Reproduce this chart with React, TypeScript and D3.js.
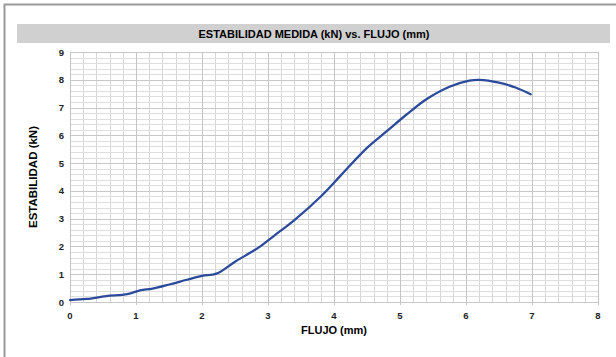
import React, { useEffect, useRef } from 'react'
import * as d3 from 'd3'

const flujo = [0, 0.25, 0.55, 0.87, 1.06, 1.25, 1.52, 1.77, 2.0, 2.22, 2.5, 2.85, 3.1, 3.4, 3.8, 4.1, 4.5, 4.8, 5.1, 5.4, 5.75, 6.05, 6.2, 6.5, 6.75, 6.98]
const estabilidad = [0.07, 0.11, 0.21, 0.28, 0.42, 0.48, 0.64, 0.8, 0.94, 1.02, 1.45, 1.95, 2.4, 2.95, 3.8, 4.55, 5.55, 6.15, 6.75, 7.3, 7.75, 7.97, 8.0, 7.9, 7.72, 7.48]
const xTicks = [0, 1, 2, 3, 4, 5, 6, 7, 8]
const yTicks = [0, 1, 2, 3, 4, 5, 6, 7, 8, 9]

const chartTitle = 'ESTABILIDAD MEDIDA (kN) vs. FLUJO (mm)'
const xTitle = 'FLUJO (mm)'
const yTitle = 'ESTABILIDAD (kN)'

const App: React.FC = () => {
  const ref = useRef<SVGSVGElement | null>(null)

  useEffect(() => {
    if (!ref.current) {
      return
    }
    const svg = d3.select(ref.current)
    svg.selectAll('*').remove()

    const width = 616
    const height = 357
    const margin = { top: 52, right: 18, bottom: 55, left: 70 }
    const plotW = width - margin.left - margin.right
    const plotH = height - margin.top - margin.bottom
    const font = '"Liberation Sans", Arial, sans-serif'

    // frame of the chart area
    svg
      .append('path')
      .attr('d', `M4.5,${height} V4.5 H${width}`)
      .attr('fill', 'none')
      .attr('stroke', '#9a9a9a')
      .attr('stroke-width', 2)

    // title band
    svg
      .append('rect')
      .attr('x', 17)
      .attr('y', 24)
      .attr('width', 593)
      .attr('height', 19)
      .attr('fill', '#d0d0d0')

    svg
      .append('text')
      .attr('x', 314)
      .attr('y', 37.5)
      .attr('text-anchor', 'middle')
      .attr('font-family', font)
      .attr('font-weight', 'bold')
      .attr('font-size', 11)
      .attr('fill', '#000')
      .text(chartTitle)

    const x = d3.scaleLinear().domain([0, 8]).range([0, plotW])
    const y = d3.scaleLinear().domain([0, 9]).range([plotH, 0])

    const g = svg.append('g').attr('transform', `translate(${margin.left},${margin.top})`)

    // minor grid every 0.2
    const minorX = d3.range(0, 8.001, 0.2)
    const minorY = d3.range(0, 9.001, 0.2)
    g.selectAll('line.minor-x')
      .data(minorX)
      .enter()
      .append('line')
      .attr('x1', (d) => Math.round(x(d)) + 0.5)
      .attr('x2', (d) => Math.round(x(d)) + 0.5)
      .attr('y1', 0)
      .attr('y2', plotH)
      .attr('stroke', '#d6d6d6')
    g.selectAll('line.minor-y')
      .data(minorY)
      .enter()
      .append('line')
      .attr('y1', (d) => Math.round(y(d)) + 0.5)
      .attr('y2', (d) => Math.round(y(d)) + 0.5)
      .attr('x1', 0)
      .attr('x2', plotW)
      .attr('stroke', '#dedede')

    // major grid
    g.selectAll('line.major-x')
      .data(xTicks)
      .enter()
      .append('line')
      .attr('x1', (d) => Math.round(x(d)) + 0.5)
      .attr('x2', (d) => Math.round(x(d)) + 0.5)
      .attr('y1', 0)
      .attr('y2', plotH + 3)
      .attr('stroke', '#c4c4c4')
    g.selectAll('line.major-y')
      .data(yTicks)
      .enter()
      .append('line')
      .attr('y1', (d) => Math.round(y(d)) + 0.5)
      .attr('y2', (d) => Math.round(y(d)) + 0.5)
      .attr('x1', 0)
      .attr('x2', plotW)
      .attr('stroke', '#c8c8c8')

    // tick labels
    g.selectAll('text.xt')
      .data(xTicks)
      .enter()
      .append('text')
      .attr('x', (d) => x(d))
      .attr('y', plotH + 17)
      .attr('text-anchor', 'middle')
      .attr('font-family', font)
      .attr('font-weight', 'bold')
      .attr('font-size', 9.5)
      .attr('fill', '#222')
      .text((d) => d)
    g.selectAll('text.yt')
      .data(yTicks)
      .enter()
      .append('text')
      .attr('x', -6)
      .attr('y', (d) => y(d) + 3.5)
      .attr('text-anchor', 'end')
      .attr('font-family', font)
      .attr('font-weight', 'bold')
      .attr('font-size', 9.5)
      .attr('fill', '#222')
      .text((d) => d)

    // axis titles
    svg
      .append('text')
      .attr('x', margin.left + plotW / 2)
      .attr('y', 334)
      .attr('text-anchor', 'middle')
      .attr('font-family', font)
      .attr('font-weight', 'bold')
      .attr('font-size', 11)
      .attr('fill', '#000')
      .text(xTitle)
    svg
      .append('text')
      .attr('transform', `translate(37,${margin.top + plotH / 2}) rotate(-90)`)
      .attr('text-anchor', 'middle')
      .attr('font-family', font)
      .attr('font-weight', 'bold')
      .attr('font-size', 11.5)
      .attr('fill', '#000')
      .text(yTitle)

    // data line
    const points = flujo.map((f, i) => [f, estabilidad[i]] as [number, number])
    const line = d3
      .line<[number, number]>()
      .x((d) => x(d[0]))
      .y((d) => y(d[1]))
      .curve(d3.curveCatmullRom.alpha(0.5))
    g.append('path')
      .datum(points)
      .attr('d', line)
      .attr('fill', 'none')
      .attr('stroke', '#2b4a9c')
      .attr('stroke-width', 2.25)
      .attr('stroke-linejoin', 'round')
      .attr('stroke-linecap', 'round')
  }, [])

  return <svg ref={ref} width={616} height={357} style={{ position: 'absolute', left: 0, top: 0, background: '#fff' }} />
}

export default App
